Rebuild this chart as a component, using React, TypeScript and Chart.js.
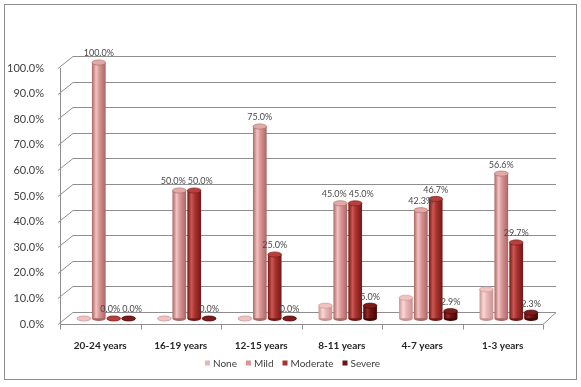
import React, { useEffect, useRef } from 'react';
import { Chart, registerables } from 'chart.js';

Chart.register(...registerables);

const categories = ['20-24 years', '16-19 years', '12-15 years', '8-11 years', '4-7 years', '1-3 years'];
const seriesNames = ['None', 'Mild', 'Moderate', 'Severe'];
const noneValues = [0, 0, 0, 5.0, 8.1, 11.4];
const mildValues = [100, 50, 75, 45, 42.3, 56.6];
const moderateValues = [0, 50, 25, 45, 46.7, 29.7];
const severeValues = [0, 0, 0, 5.0, 2.9, 2.3];
const yTickValues = [0, 10, 20, 30, 40, 50, 60, 70, 80, 90, 100];
const showValueLabels = [false, true, true, true];

const palette = [
  { base: '#E9B5B4', light: '#F8D9D8', dark: '#C99392', cap: '#EEC3C2' },
  { base: '#D99594', light: '#F2C3C1', dark: '#A86664', cap: '#E2A9A7' },
  { base: '#A8322F', light: '#CC5752', dark: '#731817', cap: '#B8403C' },
  { base: '#6E1313', light: '#9A2A28', dark: '#450707', cap: '#7E1C1B' },
];

const CAT_PCT = 0.74;
const BAR_PCT = 0.92;
const DX = 6, DY = -5.5; // bar depth offset
const BX = 13, BY = -12; // back wall offset
const FONT = 'Lato, "Open Sans", sans-serif';

export default function App() {
  const ref = useRef<HTMLCanvasElement>(null);

  useEffect(() => {
    document.body.style.margin = '0';
    const canvas = ref.current!;
    const allValues = [noneValues, mildValues, moderateValues, severeValues];

    const ellipse = (ctx: CanvasRenderingContext2D, x: number, y: number, rx: number, ry: number) => {
      ctx.beginPath();
      ctx.ellipse(x, y, Math.max(rx, 0.5), ry, 0, 0, Math.PI * 2);
    };

    const depthPlugin = {
      id: 'depth3d',
      beforeDraw(chart: any) {
        const ctx = chart.ctx as CanvasRenderingContext2D;
        const area = chart.chartArea;
        const ys = chart.scales.y;
        const xs = chart.scales.x;
        ctx.save();
        ctx.strokeStyle = '#8C8C8C';
        ctx.lineWidth = 1;
        ctx.strokeRect(4.5, 4.5, 572, 375);
        ctx.strokeStyle = '#8E8E8E';
        yTickValues.forEach((v) => {
          const y = Math.round(ys.getPixelForValue(v)) + 0.5;
          ctx.beginPath();
          ctx.moveTo(area.left - 2, y);
          ctx.lineTo(area.left + BX, y + BY);
          ctx.lineTo(area.right + BX, y + BY);
          ctx.stroke();
        });
        const yb = Math.round(area.bottom) + 0.5;
        ctx.beginPath();
        ctx.moveTo(area.right, yb);
        ctx.lineTo(area.right + BX, yb + BY);
        ctx.stroke();
        ctx.beginPath();
        ctx.moveTo(area.left + 0.5, area.top);
        ctx.lineTo(area.left + 0.5, yb);
        ctx.lineTo(area.right, yb);
        ctx.stroke();
        const catW = xs.width / categories.length;
        for (let i = 0; i <= categories.length; i++) {
          const x = Math.round(area.left + i * catW) + 0.5;
          ctx.beginPath();
          ctx.moveTo(x, yb);
          ctx.lineTo(x, yb + 5);
          ctx.stroke();
        }
        ctx.restore();
      },
      beforeDatasetsDraw(chart: any) {
        const ctx = chart.ctx as CanvasRenderingContext2D;
        ctx.save();
        chart.data.datasets.forEach((_ds: any, di: number) => {
          const meta = chart.getDatasetMeta(di);
          meta.data.forEach((el: any) => {
            ellipse(ctx, el.x + DX, el.base + DY, el.width / 2, 2.6);
            ctx.fillStyle = palette[di].dark;
            ctx.fill();
          });
        });
        ctx.restore();
        ctx.save();
        ctx.translate(DX, DY);
      },
      afterDatasetsDraw(chart: any) {
        const ctx = chart.ctx as CanvasRenderingContext2D;
        ctx.restore();
        ctx.save();
        chart.data.datasets.forEach((_ds: any, di: number) => {
          const meta = chart.getDatasetMeta(di);
          meta.data.forEach((el: any) => {
            ellipse(ctx, el.x + DX, el.y + DY, el.width / 2, 2.6);
            ctx.fillStyle = palette[di].cap;
            ctx.fill();
            ctx.strokeStyle = palette[di].dark;
            ctx.lineWidth = 0.6;
            ctx.stroke();
          });
        });
        ctx.fillStyle = '#4A4A4A';
        ctx.font = `9px ${FONT}`;
        ctx.textAlign = 'center';
        ctx.textBaseline = 'middle';
        // build labels per category with simple collision avoidance
        categories.forEach((_c, i) => {
          const labels: { text: string; x: number; y: number; w: number }[] = [];
          chart.data.datasets.forEach((_ds: any, di: number) => {
            if (!showValueLabels[di]) return;
            const el = chart.getDatasetMeta(di).data[i];
            const text = allValues[di][i].toFixed(1) + '%';
            const w = ctx.measureText(text).width;
            labels.push({ text, x: el.x + DX, y: el.y + DY - 9, w });
          });
          for (let k = 1; k < labels.length; k++) {
            const a = labels[k - 1], b = labels[k];
            if (Math.abs(a.y - b.y) < 10) {
              const overlap = (a.x + a.w / 2) - (b.x - b.w / 2) + 2;
              if (overlap > 0) {
                a.x -= overlap / 2;
                b.x += overlap / 2;
              }
            }
          }
          labels.forEach((l) => ctx.fillText(l.text, l.x, l.y));
        });
        ctx.restore();
      },
      afterDraw(chart: any) {
        const ctx = chart.ctx as CanvasRenderingContext2D;
        ctx.save();
        ctx.font = `10px ${FONT}`;
        ctx.textBaseline = 'middle';
        ctx.textAlign = 'left';
        const box = 5, gapText = 3, gapItem = 9;
        const widths = seriesNames.map((s) => ctx.measureText(s).width);
        const total = widths.reduce((a, w) => a + box + gapText + w, 0) + gapItem * (seriesNames.length - 1);
        let x = 292.5 - total / 2;
        const y = 363;
        seriesNames.forEach((s, i) => {
          ctx.fillStyle = palette[i].base;
          ctx.fillRect(x, y - 2.5, box, box);
          ctx.fillStyle = '#404040';
          ctx.fillText(s, x + box + gapText, y + 0.5);
          x += box + gapText + widths[i] + gapItem;
        });
        ctx.restore();
      },
    };

    const makeGradient = (c: any, di: number) => {
      const chart = c.chart;
      const xs = chart.scales?.x;
      const col = palette[di];
      if (!xs || c.dataIndex === undefined || !isFinite(xs.width) || xs.width <= 0) return col.base;
      const catW = xs.width / categories.length;
      const slot = (catW * CAT_PCT) / seriesNames.length;
      const center = xs.getPixelForValue(c.dataIndex) + (di - (seriesNames.length - 1) / 2) * slot;
      const half = (slot * BAR_PCT) / 2;
      const g = chart.ctx.createLinearGradient(center - half, 0, center + half, 0);
      g.addColorStop(0, col.dark);
      g.addColorStop(0.3, col.light);
      g.addColorStop(0.55, col.base);
      g.addColorStop(1, col.dark);
      return g;
    };

    const chart = new Chart(canvas, {
      type: 'bar',
      data: {
        labels: categories,
        datasets: allValues.map((vals, di) => ({
          label: seriesNames[di],
          data: vals,
          backgroundColor: (c: any) => makeGradient(c, di),
          borderWidth: 0,
          categoryPercentage: CAT_PCT,
          barPercentage: BAR_PCT,
        })),
      },
      options: {
        responsive: false,
        animation: false,
        layout: { padding: { top: 68, right: 38, bottom: 33, left: 0 } },
        plugins: { legend: { display: false }, tooltip: { enabled: false } },
        scales: {
          x: {
            grid: { display: false },
            border: { display: false },
            ticks: {
              color: '#262626',
              font: { family: FONT, size: 10, weight: 'bold' },
              padding: 8,
              maxRotation: 0,
              autoSkip: false,
            },
            afterFit: (s: any) => { s.height = 30; },
          },
          y: {
            min: 0,
            max: 100,
            grid: { display: false },
            border: { display: false },
            ticks: {
              stepSize: 10,
              color: '#404040',
              font: { family: FONT, size: 11 },
              padding: 8,
              callback: (v: any) => Number(v).toFixed(1) + '%',
            },
            afterFit: (s: any) => { s.width = 60; },
          },
        },
      },
      plugins: [depthPlugin],
    } as any);

    return () => chart.destroy();
  }, []);

  return (
    <div style={{ position: 'absolute', left: 0, top: 0, width: 581, height: 387, background: '#fff' }}>
      <canvas ref={ref} width={581} height={387} style={{ display: 'block', width: 581, height: 387 }} />
    </div>
  );
}
